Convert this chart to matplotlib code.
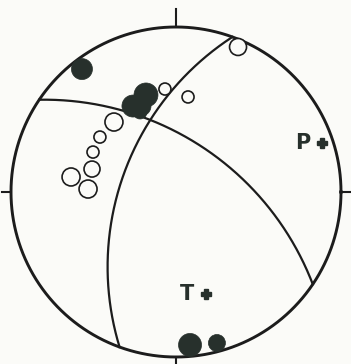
import numpy as np
import matplotlib
matplotlib.use("Agg")
import matplotlib.pyplot as plt

# ---- data (lower-hemisphere stereographic projection, unit circle) ----
plane_strike = [304, 200]      # right-hand-rule strike, degrees
plane_dip = [55, 53]           # degrees

# compressional (filled) first motions: projected x, y, and symbol radius (px)
up_x = [-0.570, -0.182, -0.261, -0.212, -0.218, 0.085, 0.248]
up_y = [0.745, 0.588, 0.521, 0.521, 0.485, -0.927, -0.915]
up_r = [10.5, 12, 11, 10, 7, 11.5, 8.5]

# dilatational (open) first motions
dn_x = [0.376, -0.067, 0.073, -0.376, -0.461, -0.503, -0.509, -0.636, -0.533]
dn_y = [0.879, 0.624, 0.576, 0.424, 0.333, 0.242, 0.139, 0.091, 0.018]
dn_r = [8.5, 6, 6, 9, 6, 6, 8, 9, 9]

axis_labels = ["P", "T"]
axis_x = [0.885, 0.182]
axis_y = [0.297, -0.618]

# ---- figure ----
W, H, DPI = 351, 364, 100
CX, CY, R = 176, 192, 165   # pixel centre and radius of the net
BG = "#fbfbf8"
INK = "#1c1c1c"
FILL = "#27302c"

fig = plt.figure(figsize=(W / DPI, H / DPI), dpi=DPI, facecolor=BG)
ax = fig.add_axes([0, 0, 1, 1])
ax.set_facecolor(BG)
ax.set_xlim(-CX / R, (W - CX) / R)
ax.set_ylim((CY - H) / R, CY / R)
ax.axis("off")

# primitive circle
t = np.linspace(0, 2 * np.pi, 721)
ax.plot(np.cos(t), np.sin(t), color=INK, lw=2.1, zorder=3)
# ticks
tl = 0.11
ax.plot([0, 0], [1, 1 + tl], color=INK, lw=1.5, zorder=3)
ax.plot([0, 0], [-1, -1 - tl], color=INK, lw=1.5, zorder=3)
ax.plot([-1, -1 - 0.055], [0, 0], color=INK, lw=1.5, zorder=3)
ax.plot([1, 1 + 0.055], [0, 0], color=INK, lw=1.5, zorder=3)

# nodal planes
def great_circle(strike, dip):
    s = np.radians(strike)
    d = np.radians(dip)
    dd = s + np.pi / 2
    sv = np.array([np.sin(s), np.cos(s), 0.0])
    dv = np.array([np.cos(d) * np.sin(dd), np.cos(d) * np.cos(dd), np.sin(d)])
    rk = np.linspace(0, np.pi, 400)
    v = np.outer(np.cos(rk), sv) + np.outer(np.sin(rk), dv)
    e, n, z = v[:, 0], v[:, 1], v[:, 2]
    return e / (1 + z), n / (1 + z)

for st, dp in zip(plane_strike, plane_dip):
    gx, gy = great_circle(st, dp)
    ax.plot(gx, gy, color=INK, lw=1.6, zorder=2)

# first-motion symbols
def s_of(r):
    return (2 * r * 72 / DPI) ** 2

ax.scatter(dn_x, dn_y, s=[s_of(r) for r in dn_r], facecolor=BG,
           edgecolor=INK, linewidths=1.2, zorder=4)
ax.scatter(up_x, up_y, s=[s_of(r) for r in up_r], facecolor=FILL,
           edgecolor=FILL, linewidths=0.5, zorder=5)

# P and T axes
for lab, x, y in zip(axis_labels, axis_x, axis_y):
    ax.plot(x, y, marker="P", ms=7.5, color=FILL, mec=FILL, zorder=6)
    ax.text(x - 0.07, y, lab, ha="right", va="center", fontsize=15,
            fontweight="bold", color=FILL, family="DejaVu Sans", zorder=6)

fig.savefig("out.png", dpi=DPI, facecolor=BG)
